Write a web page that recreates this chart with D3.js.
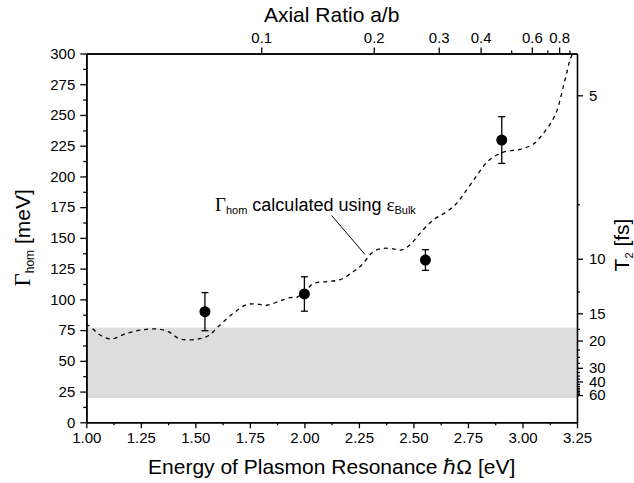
<!DOCTYPE html>
<html>
<head>
<meta charset="utf-8">
<script src="https://cdn.jsdelivr.net/npm/d3@7"></script>
<style>
    body { margin: 0; background: #fff; }
    svg text { font-family: "Liberation Sans", Arial, sans-serif; fill: #000; }
    .axis path { stroke: #000; stroke-width: 1.6; }
    .axis line { stroke: #000; stroke-width: 1.3; }
    .axis text { font-size: 15px; }
    .serif { font-family: "Liberation Serif", "Times New Roman", serif; }
</style>
</head>
<body>
<svg id="chart" width="634" height="483"></svg>
<script>
"use strict";

// measured points
const energy = [1.544, 2.0, 2.555, 2.905];
const gamma = [90, 104.4, 132, 229.6];
const gammaErr = [15.5, 14, 8.4, 19];

// dashed curve: Gamma_hom from bulk epsilon
const curveEnergy = [1.0, 1.03, 1.063, 1.116, 1.185, 1.254, 1.323, 1.376, 1.43, 1.514, 1.559, 1.613,
    1.674, 1.735, 1.781, 1.827, 1.888, 1.934, 1.965, 2.0, 2.041, 2.102, 2.163, 2.224, 2.263, 2.316,
    2.362, 2.408, 2.446, 2.484, 2.53, 2.591, 2.652, 2.698, 2.744, 2.79, 2.836, 2.882, 2.928, 2.989,
    3.05, 3.1, 3.15, 3.195, 3.218, 3.235];
const curveGamma = [80, 76, 71.0, 67.8, 72.4, 75.1, 75.9, 73.7, 67.8, 67.8, 70.4, 79.2,
    88.7, 95.7, 96.2, 95.2, 98.7, 101.4, 101.7, 106, 112.8, 114.5, 116, 122.5, 128, 138.8,
    141.5, 141.0, 140.2, 144.2, 153.7, 164.6, 171.3, 178.1, 189.0, 200.5, 211.5, 217.4, 220.5, 222,
    226.4, 236, 250, 278.5, 294.8, 302];

// grey band (Gamma range)
const bandGamma = [19.7, 77.1];

// axes ticks
const xTicks = [1.0, 1.25, 1.5, 1.75, 2.0, 2.25, 2.5, 2.75, 3.0, 3.25];
const yTicks = [0, 25, 50, 75, 100, 125, 150, 175, 200, 225, 250, 275, 300];
const axialTicks = [0.1, 0.2, 0.3, 0.4, 0.6, 0.8];
const axialTickEnergy = [1.802, 2.318, 2.616, 2.808, 3.043, 3.168];
const axialMinorEnergy = [2.948, 3.114, 3.215]; // 0.5, 0.7, 0.9
const t2Ticks = [5, 10, 15, 20, 30, 40, 60];
const t2Minor = [7.5, 12.5, 17.5, 22.5, 25, 27.5, 32.5, 35, 37.5, 42.5, 45, 47.5, 50, 52.5, 55, 57.5];
const hbar2 = 1330; // T2[fs] = 2*hbar / Gamma[meV]

const svg = d3.select("#chart");
const margin = { top: 53.5, right: 57, bottom: 60.7, left: 86.3 };
const W = 634, H = 483;
const width = W - margin.left - margin.right;
const height = H - margin.top - margin.bottom;

const x = d3.scaleLinear().domain([1, 3.25]).range([0, width]);
const y = d3.scaleLinear().domain([0, 300]).range([height, 0]);
const t2 = d3.scalePow().exponent(-1)
    .domain([hbar2 / 300, hbar2 / 150])
    .range([y(300), y(150)]);

const chart = svg.append("g").attr("transform", `translate(${margin.left}, ${margin.top})`);

svg.append("defs").append("clipPath").attr("id", "plot")
    .append("rect").attr("width", width).attr("height", height);

// grey band
chart.append("rect")
    .attr("x", 0)
    .attr("y", y(bandGamma[1]))
    .attr("width", width)
    .attr("height", y(bandGamma[0]) - y(bandGamma[1]))
    .attr("fill", "#dddddd");

// dashed curve
const line = d3.line()
    .x((d, i) => x(curveEnergy[i]))
    .y((d) => y(d))
    .curve(d3.curveCatmullRom);

chart.append("path")
    .attr("clip-path", "url(#plot)")
    .attr("d", line(curveGamma))
    .attr("fill", "none")
    .attr("stroke", "#000")
    .attr("stroke-width", 1.3)
    .attr("stroke-dasharray", "4,4");

// axes
const minorX = d3.range(1.125, 3.25, 0.25);
const minorY = d3.range(12.5, 300, 25);

chart.append("g").attr("class", "axis")
    .attr("transform", `translate(0, ${height})`)
    .call(d3.axisBottom(x).tickValues(xTicks).tickFormat(d3.format(".2f"))
        .tickSize(6).tickSizeOuter(0).tickPadding(4));
chart.append("g").attr("class", "axis")
    .attr("transform", `translate(0, ${height})`)
    .call(d3.axisBottom(x).tickValues(minorX).tickFormat("").tickSize(3).tickSizeOuter(0));

chart.append("g").attr("class", "axis")
    .call(d3.axisLeft(y).tickValues(yTicks).tickSize(6).tickSizeOuter(0).tickPadding(5));
chart.append("g").attr("class", "axis")
    .call(d3.axisLeft(y).tickValues(minorY).tickFormat("").tickSize(3).tickSizeOuter(0));

chart.append("g").attr("class", "axis")
    .call(d3.axisTop(x).tickValues(axialTickEnergy)
        .tickFormat((d, i) => axialTicks[i]).tickSize(6).tickSizeOuter(0).tickPadding(5));
chart.append("g").attr("class", "axis")
    .call(d3.axisTop(x).tickValues(axialMinorEnergy).tickFormat("").tickSize(3).tickSizeOuter(0));

chart.append("g").attr("class", "axis")
    .attr("transform", `translate(${width}, 0)`)
    .call(d3.axisRight(y).tickValues([]).tickSizeOuter(0));
chart.append("g").attr("class", "axis")
    .attr("transform", `translate(${width}, 0)`)
    .call(d3.axisRight(t2).tickValues(t2Ticks).tickFormat(d3.format("d"))
        .tickSize(6).tickSizeOuter(0).tickPadding(6))
    .select(".domain").remove();
chart.append("g").attr("class", "axis")
    .attr("transform", `translate(${width}, 0)`)
    .call(d3.axisRight(t2).tickValues(t2Minor).tickFormat("").tickSize(3).tickSizeOuter(0))
    .select(".domain").remove();

// error bars + points
const pts = chart.selectAll(".pt").data(gamma).enter().append("g").attr("class", "pt");
pts.append("line")
    .attr("x1", (d, i) => x(energy[i])).attr("x2", (d, i) => x(energy[i]))
    .attr("y1", (d, i) => y(d - gammaErr[i])).attr("y2", (d, i) => y(d + gammaErr[i]))
    .attr("stroke", "#000").attr("stroke-width", 1.3);
pts.append("line")
    .attr("x1", (d, i) => x(energy[i]) - 3.5).attr("x2", (d, i) => x(energy[i]) + 3.5)
    .attr("y1", (d, i) => y(d + gammaErr[i])).attr("y2", (d, i) => y(d + gammaErr[i]))
    .attr("stroke", "#000").attr("stroke-width", 1.3);
pts.append("line")
    .attr("x1", (d, i) => x(energy[i]) - 3.5).attr("x2", (d, i) => x(energy[i]) + 3.5)
    .attr("y1", (d, i) => y(d - gammaErr[i])).attr("y2", (d, i) => y(d - gammaErr[i]))
    .attr("stroke", "#000").attr("stroke-width", 1.3);
pts.append("circle")
    .attr("cx", (d, i) => x(energy[i]))
    .attr("cy", (d) => y(d))
    .attr("r", 5.5)
    .attr("fill", "#000");

// annotation
chart.append("line")
    .attr("x1", x(2.125)).attr("y1", y(168.2))
    .attr("x2", x(2.278)).attr("y2", y(136.5))
    .attr("stroke", "#000").attr("stroke-width", 1);

const note = chart.append("text")
    .attr("x", x(1.59)).attr("y", y(171.9))
    .style("font-size", "18px");
note.append("tspan").attr("class", "serif").style("font-size", "19px").text("Γ");
note.append("tspan").style("font-size", "11px").attr("dy", 3).text("hom");
note.append("tspan").attr("dy", -3).text(" calculated using ");
note.append("tspan").attr("class", "serif").style("font-size", "19px").text("ε");
note.append("tspan").style("font-size", "11px").attr("dy", 3).text("Bulk");

// axis titles
svg.append("text")
    .attr("x", margin.left + width / 2).attr("y", 474)
    .attr("text-anchor", "middle")
    .style("font-size", "21px")
    .text("Energy of Plasmon Resonance ℏΩ [eV]");

svg.append("text")
    .attr("x", margin.left + width / 2).attr("y", 22)
    .attr("text-anchor", "middle")
    .style("font-size", "21px")
    .text("Axial Ratio a/b");

const yTitle = svg.append("text")
    .attr("transform", `translate(30, ${margin.top + height / 2}) rotate(-90)`)
    .attr("text-anchor", "middle")
    .style("font-size", "21px");
yTitle.append("tspan").attr("class", "serif").style("font-size", "23px").text("Γ");
yTitle.append("tspan").style("font-size", "12px").attr("dy", 4).text("hom");
yTitle.append("tspan").attr("dy", -4).text(" [meV]");

const tTitle = svg.append("text")
    .attr("transform", `translate(629, 245) rotate(-90)`)
    .attr("text-anchor", "middle")
    .style("font-size", "21px");
tTitle.append("tspan").text("T");
tTitle.append("tspan").style("font-size", "11px").attr("dy", 4).text("2");
tTitle.append("tspan").attr("dy", -4).text(" [fs]");
</script>
</body>
</html>
